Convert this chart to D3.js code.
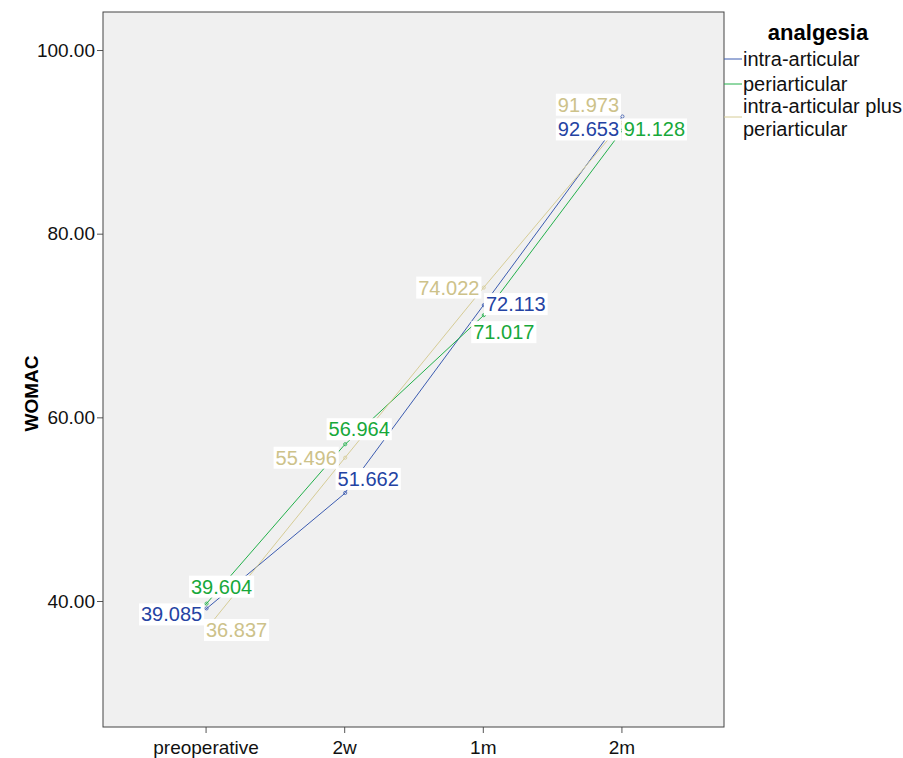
<!DOCTYPE html>
<html>
<head>
<meta charset="utf-8">
<script src="https://cdn.jsdelivr.net/npm/d3@7"></script>
<style>
  body { margin: 0; background: #fff; }
  text { font-family: Arial, "Liberation Sans", sans-serif; }
</style>
</head>
<body>
<div id="chart"></div>
<script>
// Data
const times = ["preoperative", "2w", "1m", "2m"]
const groups = ["intra-articular", "periarticular", "intra-articular plus periarticular"]
const intraArticular = [39.085, 51.662, 72.113, 92.653]
const periarticular = [39.604, 56.964, 71.017, 91.128]
const intraPlusPeri = [36.837, 55.496, 74.022, 91.973]
const yTicks = [40, 60, 80, 100]

// label offsets (layout only), relative to the point
const labelOffsets = [
    [[-34, 5], [24, -15], [33, -2], [-33, 12]],
    [[16, -18], [15, -16], [21, 16], [33, -2]],
    [[31, 0], [-38, -1], [-34, -1], [-33, -19]]
]

const seriesValues = [intraArticular, periarticular, intraPlusPeri]
const lineColors = ["#3b5bb0", "#22b04a", "#d6cc96"]
const textColors = ["#2443a3", "#17a83a", "#cdc28a"]

const WIDTH = 903
const HEIGHT = 758
const PLOT = {LEFT: 103, RIGHT: 724, TOP: 12, BOTTOM: 727}

let svg = d3.select("#chart").append("svg")
    .attr("width", WIDTH)
    .attr("height", HEIGHT)

// plot background
svg.append("rect")
    .attr("x", PLOT.LEFT).attr("y", PLOT.TOP)
    .attr("width", PLOT.RIGHT - PLOT.LEFT)
    .attr("height", PLOT.BOTTOM - PLOT.TOP)
    .attr("fill", "#f0f0f0")

let xScale = d3.scalePoint()
    .domain(times)
    .range([PLOT.LEFT, PLOT.RIGHT])
    .padding(0.74)

let yScale = d3.scaleLinear()
    .domain([26.28, 104.14])
    .range([PLOT.BOTTOM, PLOT.TOP])

// axes
let xAxis = svg.append("g")
    .attr("transform", "translate(0," + PLOT.BOTTOM + ")")
    .call(d3.axisBottom(xScale).tickSize(6).tickSizeOuter(0).tickPadding(8))
xAxis.select(".domain").remove()
xAxis.selectAll("text").style("font-size", "19px").attr("fill", "#111")
xAxis.selectAll("line").attr("stroke", "#555")

let yAxis = svg.append("g")
    .attr("transform", "translate(" + PLOT.LEFT + ",0)")
    .call(d3.axisLeft(yScale).tickValues(yTicks).tickFormat(d3.format(".2f")).tickSize(6).tickPadding(2))
yAxis.select(".domain").remove()
yAxis.selectAll("text").style("font-size", "19px").attr("fill", "#111")
yAxis.selectAll("line").attr("stroke", "#555")

// frame
svg.append("rect")
    .attr("x", PLOT.LEFT).attr("y", PLOT.TOP)
    .attr("width", PLOT.RIGHT - PLOT.LEFT)
    .attr("height", PLOT.BOTTOM - PLOT.TOP)
    .attr("fill", "none")
    .attr("stroke", "#444")
    .attr("stroke-width", 1)

// y title
svg.append("text")
    .attr("transform", "translate(38," + ((PLOT.TOP + PLOT.BOTTOM) / 2 + 24) + ") rotate(-90)")
    .attr("text-anchor", "middle")
    .style("font-size", "19px")
    .style("font-weight", "bold")
    .text("WOMAC")

// lines
let line = d3.line()
    .x((d, i) => xScale(times[i]))
    .y(d => yScale(d))

seriesValues.forEach(function(vals, s) {
    svg.append("path")
        .datum(vals)
        .attr("d", line)
        .attr("fill", "none")
        .attr("stroke", lineColors[s])
        .attr("stroke-width", 1)

    svg.selectAll(".pt" + s)
        .data(vals)
        .enter()
        .append("circle")
        .attr("cx", (d, i) => xScale(times[i]) + 1)
        .attr("cy", d => yScale(d) - 1)
        .attr("r", 1.6)
        .attr("fill", "none")
        .attr("stroke", lineColors[s])
        .attr("stroke-width", 0.8)
})

// data labels
seriesValues.forEach(function(vals, s) {
    vals.forEach(function(v, i) {
        let cx = xScale(times[i]) + labelOffsets[s][i][0]
        let cy = yScale(v) + labelOffsets[s][i][1]
        let g = svg.append("g").attr("transform", "translate(" + cx + "," + cy + ")")
        let t = g.append("text")
            .attr("text-anchor", "middle")
            .attr("dy", "0.35em")
            .style("font-size", "20px")
            .attr("fill", textColors[s])
            .text(d3.format(".3f")(v))
        let bb = t.node().getBBox()
        g.insert("rect", "text")
            .attr("x", bb.x - 2).attr("y", bb.y)
            .attr("width", bb.width + 4).attr("height", bb.height)
            .attr("fill", "#fff")
    })
})

// legend
svg.append("text")
    .attr("x", 818).attr("y", 40)
    .attr("text-anchor", "middle")
    .style("font-size", "22px")
    .style("font-weight", "bold")
    .text("analgesia")

const legendRows = [
    {lines: ["intra-articular"], y: 59},
    {lines: ["periarticular"], y: 84},
    {lines: ["intra-articular plus", "periarticular"], y: 117}
]
legendRows.forEach(function(row, s) {
    svg.append("line")
        .attr("x1", PLOT.RIGHT).attr("x2", 742)
        .attr("y1", row.y).attr("y2", row.y)
        .attr("stroke", lineColors[s])
        .attr("stroke-width", 1)
    let n = row.lines.length
    row.lines.forEach(function(txt, k) {
        svg.append("text")
            .attr("x", 743)
            .attr("y", row.y + (k - (n - 1) / 2) * 23)
            .attr("dy", "0.35em")
            .style("font-size", "20px")
            .attr("fill", "#111")
            .text(txt)
    })
})
</script>
</body>
</html>
